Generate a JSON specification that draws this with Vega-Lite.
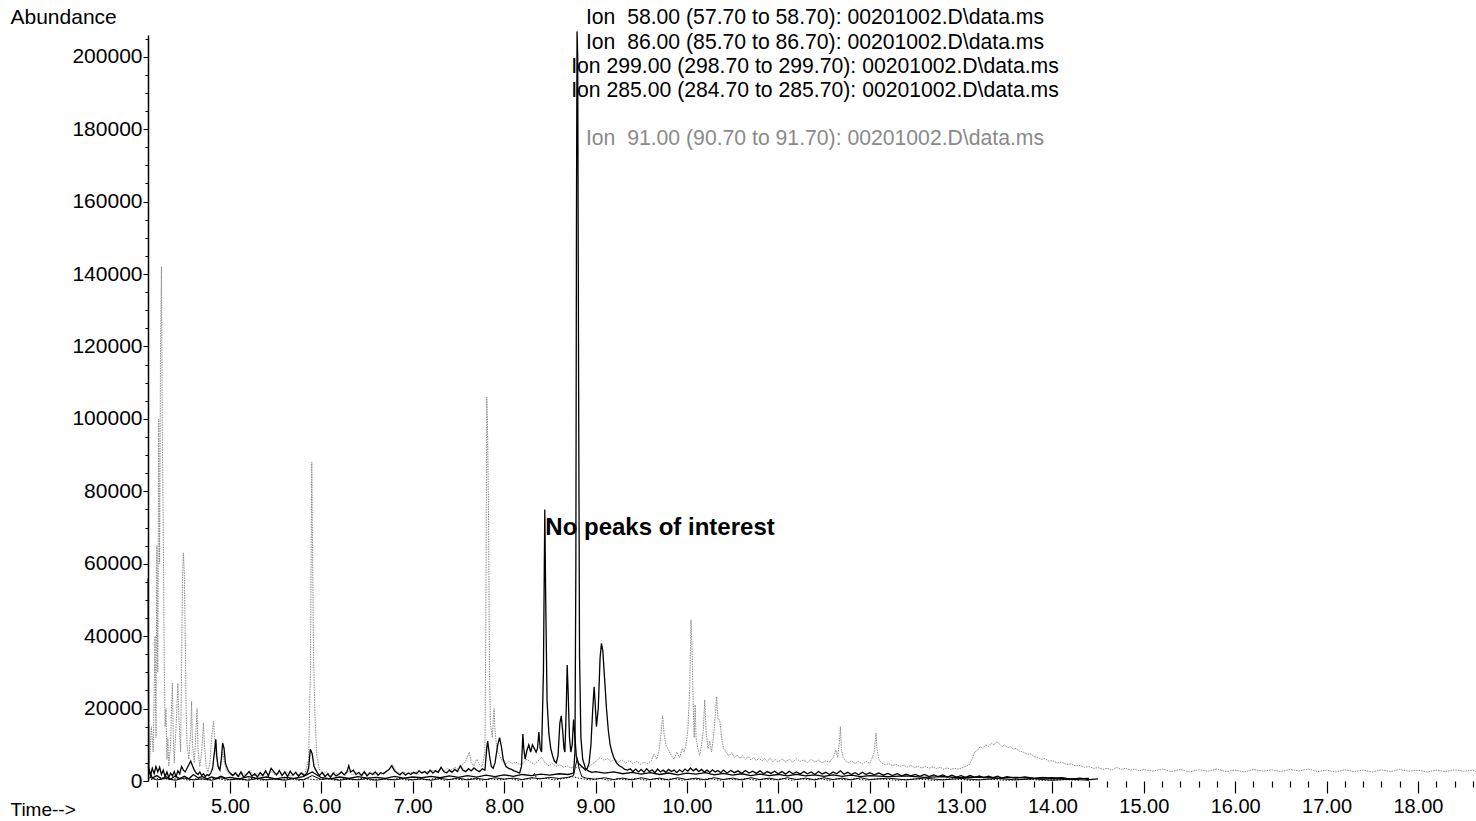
{
"$schema":"https://vega.github.io/schema/vega-lite/v6.json",
"width":1328,"height":746,
"autosize":"none",
"padding":{"left":148,"top":35,"right":0,"bottom":40},
"background":"#ffffff",
"config":{"view":{"stroke":null},"font":"Liberation Sans"},
"datasets":{
"i91":[
{"t":4.104,"a":9000},{"t":4.12,"a":5000},{"t":4.14,"a":15000},{"t":4.16,"a":8000},{"t":4.18,"a":40000},{"t":4.19,"a":12000},{"t":4.2,"a":65000},{"t":4.21,"a":30000},{"t":4.22,"a":100000},{"t":4.23,"a":60000},{"t":4.24,"a":120000},{"t":4.25,"a":142000},{"t":4.26,"a":95000},{"t":4.27,"a":70000},{"t":4.28,"a":35000},{"t":4.29,"a":15000},{"t":4.3,"a":20000},{"t":4.31,"a":6000},{"t":4.32,"a":12000},{"t":4.33,"a":4000},{"t":4.35,"a":10000},{"t":4.36,"a":20000},{"t":4.37,"a":27000},{"t":4.38,"a":12000},{"t":4.39,"a":5000},{"t":4.41,"a":15000},{"t":4.43,"a":27000},{"t":4.44,"a":18000},{"t":4.46,"a":8000},{"t":4.47,"a":30000},{"t":4.48,"a":55000},{"t":4.49,"a":63000},{"t":4.5,"a":58000},{"t":4.51,"a":40000},{"t":4.52,"a":20000},{"t":4.53,"a":10000},{"t":4.55,"a":6000},{"t":4.57,"a":14000},{"t":4.58,"a":22000},{"t":4.59,"a":10000},{"t":4.61,"a":5000},{"t":4.63,"a":15000},{"t":4.64,"a":20000},{"t":4.65,"a":9000},{"t":4.67,"a":4000},{"t":4.69,"a":8000},{"t":4.71,"a":16000},{"t":4.72,"a":10000},{"t":4.74,"a":4000},{"t":4.76,"a":2500},{"t":4.78,"a":5000},{"t":4.8,"a":12000},{"t":4.82,"a":16500},{"t":4.84,"a":9000},{"t":4.86,"a":5000},{"t":4.88,"a":3000},{"t":4.9,"a":4500},{"t":4.92,"a":8000},{"t":4.94,"a":5000},{"t":4.96,"a":3000},{"t":4.99,"a":2000},
{"t":5.02,"a":1500},{"t":5.06,"a":2500},{"t":5.1,"a":1200},{"t":5.14,"a":2200},{"t":5.18,"a":1600},{"t":5.22,"a":2800},{"t":5.26,"a":1400},{"t":5.3,"a":2000},{"t":5.34,"a":1500},{"t":5.38,"a":2400},{"t":5.42,"a":1800},{"t":5.46,"a":2600},{"t":5.5,"a":1500},{"t":5.54,"a":2200},{"t":5.58,"a":1700},{"t":5.62,"a":2500},{"t":5.66,"a":1400},{"t":5.7,"a":2100},{"t":5.74,"a":1600},{"t":5.78,"a":2300},{"t":5.82,"a":1800},{"t":5.86,"a":6000},{"t":5.88,"a":30000},{"t":5.895,"a":88000},{"t":5.905,"a":60000},{"t":5.915,"a":34000},{"t":5.93,"a":18000},{"t":5.95,"a":7000},{"t":5.98,"a":3000},
{"t":6.02,"a":2000},{"t":6.06,"a":2600},{"t":6.1,"a":1500},{"t":6.14,"a":2400},{"t":6.18,"a":1800},{"t":6.22,"a":2600},{"t":6.26,"a":1500},{"t":6.3,"a":2800},{"t":6.34,"a":1700},{"t":6.38,"a":2400},{"t":6.42,"a":1600},{"t":6.46,"a":2200},{"t":6.5,"a":1900},{"t":6.54,"a":2500},{"t":6.58,"a":1700},{"t":6.62,"a":2300},{"t":6.66,"a":1900},{"t":6.7,"a":2600},{"t":6.74,"a":3000},{"t":6.78,"a":4500},{"t":6.82,"a":2600},{"t":6.86,"a":2000},{"t":6.9,"a":2500},{"t":6.94,"a":1900},{"t":6.98,"a":2400},
{"t":7.02,"a":2200},{"t":7.06,"a":2800},{"t":7.1,"a":2300},{"t":7.14,"a":2700},{"t":7.18,"a":2400},{"t":7.22,"a":3000},{"t":7.26,"a":2500},{"t":7.3,"a":3200},{"t":7.34,"a":2700},{"t":7.38,"a":3400},{"t":7.42,"a":3000},{"t":7.46,"a":3800},{"t":7.5,"a":3200},{"t":7.54,"a":4500},{"t":7.58,"a":5500},{"t":7.62,"a":8000},{"t":7.64,"a":5000},{"t":7.67,"a":4200},{"t":7.7,"a":6000},{"t":7.73,"a":4500},{"t":7.76,"a":4000},{"t":7.79,"a":8000},{"t":7.8,"a":45000},{"t":7.81,"a":106000},{"t":7.82,"a":95000},{"t":7.83,"a":72000},{"t":7.84,"a":30000},{"t":7.85,"a":16000},{"t":7.87,"a":12000},{"t":7.89,"a":20000},{"t":7.9,"a":14000},{"t":7.92,"a":9000},{"t":7.95,"a":7000},{"t":7.98,"a":5500},
{"t":8.01,"a":4500},{"t":8.05,"a":5500},{"t":8.09,"a":4800},{"t":8.13,"a":5200},{"t":8.17,"a":4500},{"t":8.21,"a":5000},{"t":8.25,"a":6000},{"t":8.29,"a":5200},{"t":8.33,"a":4600},{"t":8.37,"a":5500},{"t":8.41,"a":6500},{"t":8.45,"a":5000},{"t":8.49,"a":4200},{"t":8.53,"a":4800},{"t":8.57,"a":4000},{"t":8.61,"a":4500},{"t":8.65,"a":3800},{"t":8.69,"a":4200},{"t":8.73,"a":3600},{"t":8.77,"a":4000},{"t":8.81,"a":3500},{"t":8.85,"a":3800},{"t":8.89,"a":3300},{"t":8.93,"a":4000},{"t":8.97,"a":4800},
{"t":9.01,"a":5500},{"t":9.05,"a":6500},{"t":9.09,"a":5800},{"t":9.13,"a":6200},{"t":9.17,"a":5400},{"t":9.21,"a":6000},{"t":9.25,"a":5200},{"t":9.29,"a":5800},{"t":9.33,"a":5000},{"t":9.37,"a":5600},{"t":9.41,"a":4800},{"t":9.45,"a":5400},{"t":9.49,"a":4600},{"t":9.53,"a":5200},{"t":9.57,"a":4800},{"t":9.61,"a":5600},{"t":9.64,"a":7500},{"t":9.67,"a":6000},{"t":9.7,"a":9000},{"t":9.72,"a":14000},{"t":9.735,"a":18000},{"t":9.75,"a":13000},{"t":9.77,"a":10000},{"t":9.8,"a":8500},{"t":9.83,"a":7000},{"t":9.86,"a":6000},{"t":9.89,"a":8000},{"t":9.92,"a":6500},{"t":9.95,"a":9000},{"t":9.97,"a":8000},{"t":9.99,"a":10000},
{"t":10.01,"a":14000},{"t":10.03,"a":25000},{"t":10.045,"a":44500},{"t":10.055,"a":38000},{"t":10.07,"a":20000},{"t":10.08,"a":12000},{"t":10.09,"a":21000},{"t":10.1,"a":12000},{"t":10.12,"a":9000},{"t":10.14,"a":7000},{"t":10.16,"a":10000},{"t":10.18,"a":14000},{"t":10.195,"a":22400},{"t":10.21,"a":14000},{"t":10.23,"a":9000},{"t":10.25,"a":11000},{"t":10.27,"a":8000},{"t":10.29,"a":12000},{"t":10.31,"a":18000},{"t":10.325,"a":23300},{"t":10.34,"a":17000},{"t":10.36,"a":16800},{"t":10.38,"a":12000},{"t":10.4,"a":9000},{"t":10.43,"a":8000},{"t":10.46,"a":7000},{"t":10.49,"a":7800},{"t":10.52,"a":6500},{"t":10.55,"a":7200},{"t":10.58,"a":6200},{"t":10.61,"a":7000},{"t":10.64,"a":6000},{"t":10.67,"a":6800},{"t":10.7,"a":5800},{"t":10.73,"a":6500},{"t":10.76,"a":5600},{"t":10.79,"a":6400},{"t":10.82,"a":5500},{"t":10.85,"a":6200},{"t":10.88,"a":5400},{"t":10.91,"a":6300},{"t":10.94,"a":5300},{"t":10.97,"a":6000},
{"t":11.0,"a":5200},{"t":11.04,"a":6100},{"t":11.08,"a":5300},{"t":11.12,"a":6000},{"t":11.16,"a":5200},{"t":11.2,"a":6200},{"t":11.24,"a":5400},{"t":11.28,"a":5800},{"t":11.32,"a":5100},{"t":11.36,"a":6000},{"t":11.4,"a":5200},{"t":11.44,"a":5800},{"t":11.48,"a":5000},{"t":11.52,"a":5600},{"t":11.56,"a":5200},{"t":11.6,"a":6500},{"t":11.63,"a":8500},{"t":11.65,"a":6500},{"t":11.67,"a":11000},{"t":11.68,"a":15000},{"t":11.69,"a":9000},{"t":11.71,"a":6500},{"t":11.74,"a":5500},{"t":11.77,"a":5000},{"t":11.8,"a":5600},{"t":11.84,"a":4800},{"t":11.88,"a":5400},{"t":11.92,"a":4700},{"t":11.96,"a":5500},
{"t":12.0,"a":4800},{"t":12.03,"a":6500},{"t":12.05,"a":8000},{"t":12.07,"a":13200},{"t":12.08,"a":9000},{"t":12.1,"a":6000},{"t":12.13,"a":5000},{"t":12.17,"a":4500},{"t":12.21,"a":4800},{"t":12.25,"a":4200},{"t":12.29,"a":4600},{"t":12.33,"a":4000},{"t":12.37,"a":4400},{"t":12.41,"a":3800},{"t":12.45,"a":4300},{"t":12.49,"a":3700},{"t":12.53,"a":4100},{"t":12.57,"a":3600},{"t":12.61,"a":4000},{"t":12.65,"a":3500},{"t":12.69,"a":3900},{"t":12.73,"a":3400},{"t":12.77,"a":3800},{"t":12.81,"a":3300},{"t":12.85,"a":3600},{"t":12.89,"a":3200},{"t":12.93,"a":3500},{"t":12.97,"a":3300},
{"t":13.01,"a":3600},{"t":13.05,"a":4000},{"t":13.09,"a":4500},{"t":13.12,"a":6000},{"t":13.15,"a":8000},{"t":13.18,"a":8500},{"t":13.21,"a":9500},{"t":13.24,"a":9000},{"t":13.27,"a":10000},{"t":13.3,"a":9500},{"t":13.33,"a":10500},{"t":13.36,"a":10000},{"t":13.39,"a":10800},{"t":13.42,"a":10200},{"t":13.45,"a":9500},{"t":13.48,"a":10000},{"t":13.51,"a":9200},{"t":13.54,"a":9500},{"t":13.57,"a":8800},{"t":13.6,"a":9000},{"t":13.64,"a":8200},{"t":13.68,"a":8000},{"t":13.72,"a":7400},{"t":13.76,"a":7500},{"t":13.8,"a":6800},{"t":13.84,"a":6500},{"t":13.88,"a":6000},{"t":13.92,"a":6200},{"t":13.96,"a":5500},
{"t":14.0,"a":5600},{"t":14.05,"a":5000},{"t":14.1,"a":5200},{"t":14.15,"a":4600},{"t":14.2,"a":4700},{"t":14.25,"a":4200},{"t":14.3,"a":4300},{"t":14.35,"a":3800},{"t":14.4,"a":4000},{"t":14.45,"a":3500},{"t":14.5,"a":3700},{"t":14.55,"a":3200},{"t":14.6,"a":3500},{"t":14.65,"a":3000},{"t":14.7,"a":3800},{"t":14.75,"a":3200},{"t":14.8,"a":3500},{"t":14.85,"a":3000},{"t":14.9,"a":3300},{"t":14.95,"a":2800},
{"t":15.0,"a":3200},{"t":15.1,"a":2700},{"t":15.2,"a":3300},{"t":15.3,"a":2600},{"t":15.4,"a":3200},{"t":15.5,"a":2500},{"t":15.6,"a":3100},{"t":15.7,"a":2700},{"t":15.8,"a":3300},{"t":15.9,"a":2600},{"t":16.0,"a":3000},{"t":16.1,"a":2500},{"t":16.2,"a":3200},{"t":16.3,"a":2700},{"t":16.4,"a":3100},{"t":16.5,"a":2600},{"t":16.6,"a":3200},{"t":16.7,"a":2800},{"t":16.8,"a":3300},{"t":16.9,"a":2600},{"t":17.0,"a":3000},{"t":17.1,"a":2500},{"t":17.2,"a":3100},{"t":17.3,"a":2600},{"t":17.4,"a":3000},{"t":17.5,"a":2500},{"t":17.6,"a":3100},{"t":17.7,"a":2600},{"t":17.8,"a":3200},{"t":17.9,"a":2700},{"t":18.0,"a":3000},{"t":18.1,"a":2500},{"t":18.2,"a":3000},{"t":18.3,"a":2600},{"t":18.4,"a":3100},{"t":18.5,"a":2700},{"t":18.6,"a":3000},{"t":18.63,"a":2600}
],
"i285":[
{"t":4.104,"a":800},{"t":4.15,"a":400},{"t":4.25,"a":900},{"t":4.35,"a":300},{"t":4.45,"a":800},{"t":4.55,"a":200},{"t":4.65,"a":700},{"t":4.75,"a":300},{"t":4.85,"a":800},{"t":4.95,"a":200},{"t":5.05,"a":600},{"t":5.15,"a":300},{"t":5.25,"a":700},{"t":5.35,"a":200},{"t":5.45,"a":600},{"t":5.55,"a":300},{"t":5.65,"a":700},{"t":5.75,"a":200},{"t":5.85,"a":600},{"t":5.95,"a":300},{"t":6.05,"a":700},{"t":6.15,"a":200},{"t":6.25,"a":600},{"t":6.35,"a":300},{"t":6.45,"a":700},{"t":6.55,"a":200},{"t":6.65,"a":600},{"t":6.75,"a":300},{"t":6.85,"a":700},{"t":6.95,"a":200},{"t":7.05,"a":600},{"t":7.15,"a":300},{"t":7.25,"a":700},{"t":7.35,"a":200},{"t":7.45,"a":600},{"t":7.55,"a":300},{"t":7.65,"a":700},{"t":7.75,"a":200},{"t":7.85,"a":600},{"t":7.95,"a":300},{"t":8.05,"a":700},{"t":8.15,"a":200},{"t":8.25,"a":600},{"t":8.3,"a":500},{"t":8.33,"a":2200},{"t":8.36,"a":500},{"t":8.45,"a":800},{"t":8.55,"a":300},{"t":8.65,"a":700},{"t":8.75,"a":1200},{"t":8.85,"a":600},{"t":8.95,"a":300},{"t":9.05,"a":700},{"t":9.15,"a":200},{"t":9.25,"a":600},{"t":9.35,"a":300},{"t":9.45,"a":700},{"t":9.55,"a":200},{"t":9.65,"a":600},{"t":9.75,"a":300},{"t":9.85,"a":700},{"t":9.95,"a":200},{"t":10.05,"a":600},{"t":10.15,"a":300},{"t":10.25,"a":700},{"t":10.35,"a":200},{"t":10.45,"a":600},{"t":10.55,"a":300},{"t":10.65,"a":700},{"t":10.75,"a":200},{"t":10.85,"a":600},{"t":10.95,"a":300},{"t":11.05,"a":700},{"t":11.15,"a":200},{"t":11.25,"a":600},{"t":11.35,"a":300},{"t":11.45,"a":700},{"t":11.55,"a":200},{"t":11.65,"a":600},{"t":11.75,"a":300},{"t":11.85,"a":700},{"t":11.95,"a":200},{"t":12.1,"a":600},{"t":12.3,"a":200},{"t":12.5,"a":600},{"t":12.7,"a":200},{"t":12.9,"a":600},{"t":13.1,"a":200},{"t":13.3,"a":500},{"t":13.5,"a":200},{"t":13.7,"a":500},{"t":13.9,"a":200},{"t":14.1,"a":400},{"t":14.3,"a":200}
],
"i299":[
{"t":4.104,"a":1200},{"t":4.2,"a":300},{"t":4.3,"a":700},{"t":4.4,"a":200},{"t":4.5,"a":800},{"t":4.6,"a":300},{"t":4.7,"a":600},{"t":4.8,"a":200},{"t":4.9,"a":900},{"t":5.0,"a":300},{"t":5.1,"a":600},{"t":5.2,"a":200},{"t":5.3,"a":700},{"t":5.4,"a":300},{"t":5.5,"a":600},{"t":5.6,"a":200},{"t":5.7,"a":700},{"t":5.8,"a":300},{"t":5.9,"a":1500},{"t":6.0,"a":400},{"t":6.1,"a":700},{"t":6.2,"a":200},{"t":6.3,"a":600},{"t":6.4,"a":300},{"t":6.5,"a":700},{"t":6.6,"a":200},{"t":6.7,"a":600},{"t":6.8,"a":300},{"t":6.9,"a":700},{"t":7.0,"a":300},{"t":7.1,"a":600},{"t":7.2,"a":200},{"t":7.3,"a":700},{"t":7.4,"a":400},{"t":7.5,"a":800},{"t":7.6,"a":300},{"t":7.7,"a":700},{"t":7.8,"a":400},{"t":7.9,"a":900},{"t":8.0,"a":500},{"t":8.1,"a":800},{"t":8.2,"a":400},{"t":8.3,"a":900},{"t":8.4,"a":600},{"t":8.5,"a":1000},{"t":8.6,"a":700},{"t":8.7,"a":1000},{"t":8.76,"a":1500},{"t":8.78,"a":4000},{"t":8.8,"a":6300},{"t":8.82,"a":3500},{"t":8.85,"a":1200},{"t":8.9,"a":800},{"t":9.0,"a":500},{"t":9.1,"a":900},{"t":9.2,"a":400},{"t":9.3,"a":800},{"t":9.4,"a":300},{"t":9.5,"a":900},{"t":9.6,"a":400},{"t":9.7,"a":800},{"t":9.8,"a":300},{"t":9.9,"a":900},{"t":10.0,"a":400},{"t":10.1,"a":800},{"t":10.2,"a":300},{"t":10.3,"a":900},{"t":10.4,"a":400},{"t":10.5,"a":800},{"t":10.6,"a":300},{"t":10.7,"a":900},{"t":10.8,"a":400},{"t":10.9,"a":800},{"t":11.0,"a":300},{"t":11.1,"a":900},{"t":11.2,"a":400},{"t":11.3,"a":800},{"t":11.4,"a":300},{"t":11.5,"a":900},{"t":11.6,"a":400},{"t":11.7,"a":800},{"t":11.8,"a":300},{"t":11.9,"a":900},{"t":12.0,"a":400},{"t":12.2,"a":800},{"t":12.4,"a":300},{"t":12.6,"a":800},{"t":12.8,"a":300},{"t":13.0,"a":700},{"t":13.2,"a":300},{"t":13.4,"a":700},{"t":13.6,"a":300},{"t":13.8,"a":600},{"t":14.0,"a":200},{"t":14.2,"a":500},{"t":14.4,"a":200}
],
"i86":[
{"t":4.104,"a":4000},{"t":4.15,"a":800},{"t":4.2,"a":1500},{"t":4.25,"a":600},{"t":4.3,"a":1200},{"t":4.35,"a":500},{"t":4.4,"a":1400},{"t":4.45,"a":700},{"t":4.5,"a":1300},{"t":4.55,"a":600},{"t":4.6,"a":1800},{"t":4.65,"a":900},{"t":4.7,"a":1200},{"t":4.75,"a":600},{"t":4.8,"a":1100},{"t":4.85,"a":700},{"t":4.9,"a":1300},{"t":4.95,"a":800},{"t":5.0,"a":1000},{"t":5.1,"a":600},{"t":5.2,"a":1200},{"t":5.3,"a":700},{"t":5.4,"a":1100},{"t":5.5,"a":600},{"t":5.6,"a":1000},{"t":5.7,"a":700},{"t":5.8,"a":1200},{"t":5.9,"a":2500},{"t":6.0,"a":900},{"t":6.1,"a":600},{"t":6.2,"a":1100},{"t":6.3,"a":700},{"t":6.4,"a":1200},{"t":6.5,"a":800},{"t":6.6,"a":1000},{"t":6.7,"a":700},{"t":6.8,"a":1300},{"t":6.9,"a":800},{"t":7.0,"a":1100},{"t":7.1,"a":900},{"t":7.2,"a":1300},{"t":7.3,"a":900},{"t":7.4,"a":1400},{"t":7.5,"a":1000},{"t":7.6,"a":1500},{"t":7.7,"a":1100},{"t":7.8,"a":1600},{"t":7.9,"a":1200},{"t":8.0,"a":1700},{"t":8.1,"a":1300},{"t":8.2,"a":1800},{"t":8.3,"a":1500},{"t":8.4,"a":1900},{"t":8.5,"a":1600},{"t":8.6,"a":2000},{"t":8.7,"a":1800},{"t":8.76,"a":2200},{"t":8.775,"a":8000},{"t":8.785,"a":60000},{"t":8.792,"a":160000},{"t":8.798,"a":207000},{"t":8.805,"a":200000},{"t":8.815,"a":110000},{"t":8.825,"a":35000},{"t":8.84,"a":12000},{"t":8.86,"a":6000},{"t":8.89,"a":3500},{"t":8.92,"a":2800},{"t":8.96,"a":2400},{"t":9.0,"a":2600},{"t":9.1,"a":2200},{"t":9.2,"a":2500},{"t":9.3,"a":2000},{"t":9.4,"a":2400},{"t":9.5,"a":1900},{"t":9.6,"a":2300},{"t":9.7,"a":1800},{"t":9.8,"a":2200},{"t":9.9,"a":1700},{"t":10.0,"a":2200},{"t":10.1,"a":1900},{"t":10.2,"a":2300},{"t":10.3,"a":1700},{"t":10.4,"a":2100},{"t":10.5,"a":1600},{"t":10.6,"a":2000},{"t":10.7,"a":1500},{"t":10.8,"a":1900},{"t":10.9,"a":1500},{"t":11.0,"a":1800},{"t":11.1,"a":1400},{"t":11.2,"a":1800},{"t":11.3,"a":1400},{"t":11.4,"a":1700},{"t":11.5,"a":1300},{"t":11.6,"a":1700},{"t":11.7,"a":1300},{"t":11.8,"a":1600},{"t":11.9,"a":1200},{"t":12.0,"a":1500},{"t":12.2,"a":1200},{"t":12.4,"a":1400},{"t":12.6,"a":1000},{"t":12.8,"a":1200},{"t":13.0,"a":900},{"t":13.2,"a":1100},{"t":13.4,"a":800},{"t":13.6,"a":1000},{"t":13.8,"a":700},{"t":14.0,"a":900},{"t":14.2,"a":600},{"t":14.4,"a":700}
],
"i58":[
{"t":4.104,"a":56000},{"t":4.108,"a":30000},{"t":4.112,"a":3000},{"t":4.13,"a":1500},{"t":4.15,"a":3500},{"t":4.17,"a":2000},{"t":4.19,"a":4000},{"t":4.21,"a":2500},{"t":4.23,"a":3800},{"t":4.25,"a":1800},{"t":4.27,"a":3000},{"t":4.29,"a":1200},{"t":4.31,"a":2500},{"t":4.33,"a":1000},{"t":4.35,"a":2200},{"t":4.37,"a":1400},{"t":4.39,"a":2600},{"t":4.41,"a":1200},{"t":4.43,"a":2800},{"t":4.45,"a":2000},{"t":4.47,"a":4000},{"t":4.49,"a":3000},{"t":4.51,"a":2500},{"t":4.53,"a":3500},{"t":4.55,"a":4500},{"t":4.57,"a":5500},{"t":4.59,"a":4200},{"t":4.61,"a":3000},{"t":4.63,"a":2200},{"t":4.65,"a":1800},{"t":4.67,"a":2500},{"t":4.69,"a":1500},{"t":4.71,"a":2000},{"t":4.73,"a":1200},{"t":4.75,"a":1800},{"t":4.77,"a":1500},{"t":4.79,"a":2200},{"t":4.81,"a":3500},{"t":4.83,"a":8000},{"t":4.845,"a":11500},{"t":4.855,"a":7000},{"t":4.87,"a":4000},{"t":4.89,"a":3000},{"t":4.905,"a":6000},{"t":4.92,"a":10500},{"t":4.935,"a":9000},{"t":4.95,"a":5000},{"t":4.97,"a":3500},{"t":4.99,"a":2500},
{"t":5.01,"a":2000},{"t":5.03,"a":1500},{"t":5.06,"a":2200},{"t":5.09,"a":1200},{"t":5.12,"a":2500},{"t":5.15,"a":1000},{"t":5.18,"a":1800},{"t":5.21,"a":2600},{"t":5.24,"a":1300},{"t":5.27,"a":2000},{"t":5.3,"a":1100},{"t":5.33,"a":2300},{"t":5.36,"a":1500},{"t":5.39,"a":2800},{"t":5.42,"a":1400},{"t":5.45,"a":3500},{"t":5.48,"a":2600},{"t":5.51,"a":1700},{"t":5.54,"a":2900},{"t":5.57,"a":1500},{"t":5.6,"a":2500},{"t":5.63,"a":1200},{"t":5.66,"a":2700},{"t":5.69,"a":1600},{"t":5.72,"a":2400},{"t":5.75,"a":1300},{"t":5.78,"a":2200},{"t":5.81,"a":1500},{"t":5.84,"a":2000},{"t":5.86,"a":3500},{"t":5.88,"a":8800},{"t":5.9,"a":7500},{"t":5.92,"a":4000},{"t":5.94,"a":3000},{"t":5.96,"a":2200},{"t":5.98,"a":1500},
{"t":6.01,"a":2400},{"t":6.04,"a":1200},{"t":6.07,"a":2000},{"t":6.1,"a":1000},{"t":6.13,"a":2200},{"t":6.16,"a":1400},{"t":6.19,"a":1800},{"t":6.22,"a":2500},{"t":6.25,"a":1700},{"t":6.28,"a":2600},{"t":6.3,"a":4200},{"t":6.32,"a":2500},{"t":6.35,"a":3000},{"t":6.38,"a":1800},{"t":6.41,"a":2400},{"t":6.44,"a":1500},{"t":6.47,"a":2600},{"t":6.5,"a":1400},{"t":6.53,"a":2200},{"t":6.56,"a":1800},{"t":6.59,"a":2500},{"t":6.62,"a":1600},{"t":6.65,"a":2300},{"t":6.68,"a":2000},{"t":6.71,"a":2600},{"t":6.74,"a":3200},{"t":6.77,"a":4200},{"t":6.8,"a":2800},{"t":6.83,"a":2200},{"t":6.86,"a":1700},{"t":6.89,"a":2400},{"t":6.92,"a":1600},{"t":6.95,"a":2200},{"t":6.98,"a":1800},
{"t":7.01,"a":2400},{"t":7.04,"a":2000},{"t":7.07,"a":2800},{"t":7.1,"a":2200},{"t":7.13,"a":2600},{"t":7.16,"a":2000},{"t":7.19,"a":3000},{"t":7.22,"a":2200},{"t":7.25,"a":2800},{"t":7.28,"a":2400},{"t":7.31,"a":3800},{"t":7.34,"a":2600},{"t":7.37,"a":2200},{"t":7.4,"a":3000},{"t":7.43,"a":2400},{"t":7.46,"a":3200},{"t":7.49,"a":2600},{"t":7.52,"a":4200},{"t":7.55,"a":3000},{"t":7.58,"a":2600},{"t":7.61,"a":3400},{"t":7.64,"a":2800},{"t":7.67,"a":3600},{"t":7.7,"a":3000},{"t":7.73,"a":2600},{"t":7.76,"a":3400},{"t":7.79,"a":3000},{"t":7.81,"a":9000},{"t":7.82,"a":11000},{"t":7.84,"a":7000},{"t":7.86,"a":4000},{"t":7.88,"a":3500},{"t":7.9,"a":5000},{"t":7.93,"a":10000},{"t":7.95,"a":12000},{"t":7.97,"a":9500},{"t":7.99,"a":6000},
{"t":8.02,"a":4000},{"t":8.05,"a":3500},{"t":8.08,"a":3200},{"t":8.11,"a":2800},{"t":8.14,"a":2500},{"t":8.17,"a":2200},{"t":8.19,"a":4000},{"t":8.205,"a":13000},{"t":8.215,"a":9000},{"t":8.23,"a":6000},{"t":8.25,"a":8500},{"t":8.27,"a":10000},{"t":8.29,"a":8000},{"t":8.31,"a":10000},{"t":8.33,"a":9000},{"t":8.35,"a":8000},{"t":8.365,"a":9000},{"t":8.38,"a":13500},{"t":8.395,"a":9000},{"t":8.41,"a":8000},{"t":8.43,"a":30000},{"t":8.445,"a":75000},{"t":8.455,"a":50000},{"t":8.47,"a":22000},{"t":8.49,"a":13000},{"t":8.51,"a":9000},{"t":8.53,"a":7000},{"t":8.55,"a":5500},{"t":8.57,"a":5000},{"t":8.59,"a":7000},{"t":8.61,"a":16000},{"t":8.625,"a":18000},{"t":8.64,"a":14000},{"t":8.655,"a":9000},{"t":8.665,"a":8000},{"t":8.68,"a":20000},{"t":8.69,"a":32000},{"t":8.7,"a":25000},{"t":8.715,"a":12000},{"t":8.73,"a":8000},{"t":8.745,"a":10000},{"t":8.76,"a":17000},{"t":8.775,"a":12000},{"t":8.79,"a":7000},{"t":8.81,"a":5000},{"t":8.83,"a":4500},{"t":8.85,"a":4000},{"t":8.87,"a":3500},{"t":8.89,"a":3000},{"t":8.91,"a":3500},{"t":8.93,"a":5000},{"t":8.95,"a":10000},{"t":8.97,"a":20000},{"t":8.985,"a":26000},{"t":8.995,"a":22000},
{"t":9.01,"a":15000},{"t":9.03,"a":20000},{"t":9.05,"a":34000},{"t":9.065,"a":38000},{"t":9.08,"a":36000},{"t":9.1,"a":28000},{"t":9.12,"a":20000},{"t":9.14,"a":14000},{"t":9.16,"a":10000},{"t":9.18,"a":8000},{"t":9.2,"a":6500},{"t":9.23,"a":5000},{"t":9.26,"a":4200},{"t":9.29,"a":3800},{"t":9.32,"a":3200},{"t":9.35,"a":3000},{"t":9.38,"a":3400},{"t":9.41,"a":2600},{"t":9.44,"a":3300},{"t":9.47,"a":2500},{"t":9.5,"a":3200},{"t":9.53,"a":2400},{"t":9.56,"a":3400},{"t":9.59,"a":2600},{"t":9.62,"a":3100},{"t":9.65,"a":2300},{"t":9.68,"a":3300},{"t":9.71,"a":2500},{"t":9.74,"a":3000},{"t":9.77,"a":2400},{"t":9.8,"a":3200},{"t":9.83,"a":2600},{"t":9.86,"a":3000},{"t":9.89,"a":2300},{"t":9.92,"a":3100},{"t":9.95,"a":2500},{"t":9.98,"a":3300},
{"t":10.01,"a":2700},{"t":10.04,"a":3600},{"t":10.07,"a":2800},{"t":10.1,"a":3400},{"t":10.13,"a":2600},{"t":10.16,"a":3200},{"t":10.19,"a":2500},{"t":10.22,"a":3000},{"t":10.25,"a":2400},{"t":10.28,"a":3100},{"t":10.31,"a":2500},{"t":10.34,"a":2900},{"t":10.37,"a":2300},{"t":10.4,"a":3000},{"t":10.44,"a":2200},{"t":10.48,"a":2900},{"t":10.52,"a":2300},{"t":10.56,"a":2800},{"t":10.6,"a":2100},{"t":10.64,"a":2900},{"t":10.68,"a":2200},{"t":10.72,"a":2700},{"t":10.76,"a":2100},{"t":10.8,"a":2800},{"t":10.84,"a":2000},{"t":10.88,"a":2600},{"t":10.92,"a":2100},{"t":10.96,"a":2700},
{"t":11.0,"a":2000},{"t":11.04,"a":2600},{"t":11.08,"a":1900},{"t":11.12,"a":2700},{"t":11.16,"a":2000},{"t":11.2,"a":2500},{"t":11.24,"a":1900},{"t":11.28,"a":2600},{"t":11.32,"a":2000},{"t":11.36,"a":2500},{"t":11.4,"a":1800},{"t":11.44,"a":2600},{"t":11.48,"a":1900},{"t":11.52,"a":2400},{"t":11.56,"a":1800},{"t":11.6,"a":2500},{"t":11.64,"a":2000},{"t":11.68,"a":2800},{"t":11.72,"a":1900},{"t":11.76,"a":2400},{"t":11.8,"a":1800},{"t":11.84,"a":2300},{"t":11.88,"a":1700},{"t":11.92,"a":2400},{"t":11.96,"a":1800},
{"t":12.0,"a":2300},{"t":12.05,"a":1700},{"t":12.1,"a":2200},{"t":12.15,"a":1600},{"t":12.2,"a":2100},{"t":12.25,"a":1500},{"t":12.3,"a":2000},{"t":12.35,"a":1400},{"t":12.4,"a":1900},{"t":12.45,"a":1400},{"t":12.5,"a":1800},{"t":12.55,"a":1300},{"t":12.6,"a":1800},{"t":12.65,"a":1200},{"t":12.7,"a":1700},{"t":12.75,"a":1200},{"t":12.8,"a":1700},{"t":12.85,"a":1100},{"t":12.9,"a":1600},{"t":12.95,"a":1100},{"t":13.0,"a":1500},{"t":13.05,"a":1000},{"t":13.1,"a":1500},{"t":13.15,"a":1000},{"t":13.2,"a":1400},{"t":13.25,"a":900},{"t":13.3,"a":1300},{"t":13.35,"a":900},{"t":13.4,"a":1300},{"t":13.45,"a":800},{"t":13.5,"a":1200},{"t":13.6,"a":800},{"t":13.7,"a":1100},{"t":13.8,"a":700},{"t":13.9,"a":1000},{"t":14.0,"a":600},{"t":14.1,"a":900},{"t":14.2,"a":500},{"t":14.3,"a":800},{"t":14.4,"a":400},{"t":14.5,"a":600}
],
"labsBlack":[
{"t":11.402,"a":210700,"txt":"Ion\u00a0 58.00 (57.70 to 58.70): 00201002.D\\data.ms"},
{"t":11.402,"a":203800,"txt":"Ion\u00a0 86.00 (85.70 to 86.70): 00201002.D\\data.ms"},
{"t":11.402,"a":197160,"txt":"Ion 299.00 (298.70 to 299.70): 00201002.D\\data.ms"},
{"t":11.402,"a":190540,"txt":"Ion 285.00 (284.70 to 285.70): 00201002.D\\data.ms"}
],
"labsGray":[
{"t":11.402,"a":177280,"txt":"Ion\u00a0 91.00 (90.70 to 91.70): 00201002.D\\data.ms"}
],
"note":[
{"t":9.706,"a":69860,"txt":"No peaks of interest"}
]
},
"encoding":{
"x":{"field":"t","type":"quantitative",
 "scale":{"domain":[4.103,18.635],"nice":false,"zero":false},
 "axis":{
  "values":[4.2,4.4,4.6,4.8,5,5.2,5.4,5.6,5.8,6,6.2,6.4,6.6,6.8,7,7.2,7.4,7.6,7.8,8,8.2,8.4,8.6,8.8,9,9.2,9.4,9.6,9.8,10,10.2,10.4,10.6,10.8,11,11.2,11.4,11.6,11.8,12,12.2,12.4,12.6,12.8,13,13.2,13.4,13.6,13.8,14,14.2,14.4,14.6,14.8,15,15.2,15.4,15.6,15.8,16,16.2,16.4,16.6,16.8,17,17.2,17.4,17.6,17.8,18,18.2,18.4,18.6],
  "labelExpr":"abs(datum.value - round(datum.value)) < 0.01 ? format(datum.value, '.2f') : ''",
  "tickSize":{"condition":{"test":"abs(datum.value - round(datum.value)) < 0.01","value":12},"value":6},
  "domain":false,"grid":false,"tickColor":"#000000","tickWidth":1.2,
  "labelFont":"Liberation Sans","labelFontSize":20,"labelColor":"#000000","labelPadding":3,"labelOverlap":false,"labelFlush":false,
  "title":"Time-->","titleFont":"Liberation Sans","titleFontSize":19,"titleFontWeight":"normal","titleColor":"#000000",
  "titleAngle":0,"titleAlign":"left","titleBaseline":"middle","titleX":-138,"titleY":28
 }},
"y":{"field":"a","type":"quantitative",
 "scale":{"domain":[0,206000],"nice":false,"zero":true},
 "axis":{
  "values":[0,5000,10000,15000,20000,25000,30000,35000,40000,45000,50000,55000,60000,65000,70000,75000,80000,85000,90000,95000,100000,105000,110000,115000,120000,125000,130000,135000,140000,145000,150000,155000,160000,165000,170000,175000,180000,185000,190000,195000,200000,205000],
  "labelExpr":"datum.value % 20000 === 0 ? '' + datum.value : ''",
  "tickSize":{"condition":{"test":"datum.value % 20000 === 0","value":5},"value":3},
  "domain":true,"domainColor":"#000000","domainWidth":1.5,"grid":false,"tickColor":"#000000","tickWidth":1,
  "labelFont":"Liberation Sans","labelFontSize":21,"labelColor":"#000000","labelPadding":1,"labelOverlap":false,"labelFlush":false,
  "title":"Abundance","titleFont":"Liberation Sans","titleFontSize":21,"titleFontWeight":"normal","titleColor":"#000000",
  "titleAngle":0,"titleAlign":"left","titleBaseline":"middle","titleX":-138,"titleY":-18
 }}
},
"layer":[
{"data":{"name":"i91"},"mark":{"type":"line","color":"#8a8a8a","strokeWidth":1,"strokeDash":[1.5,1]}},
{"data":{"name":"i285"},"mark":{"type":"line","color":"#000000","strokeWidth":1,"strokeDash":[1.5,1.5]}},
{"data":{"name":"i299"},"mark":{"type":"line","color":"#000000","strokeWidth":1}},
{"data":{"name":"i86"},"mark":{"type":"line","color":"#000000","strokeWidth":1.3}},
{"data":{"name":"i58"},"mark":{"type":"line","color":"#000000","strokeWidth":1.3}},
{"data":{"name":"labsBlack"},"mark":{"type":"text","color":"#000000","font":"Liberation Sans","fontSize":21.2,"align":"center","baseline":"middle"},"encoding":{"text":{"field":"txt"}}},
{"data":{"name":"labsGray"},"mark":{"type":"text","color":"#8a8a8a","font":"Liberation Sans","fontSize":21.2,"align":"center","baseline":"middle"},"encoding":{"text":{"field":"txt"}}},
{"data":{"name":"note"},"mark":{"type":"text","color":"#000000","font":"Liberation Sans","fontSize":24,"fontWeight":"bold","align":"center","baseline":"middle"},"encoding":{"text":{"field":"txt"}}}
]
}
